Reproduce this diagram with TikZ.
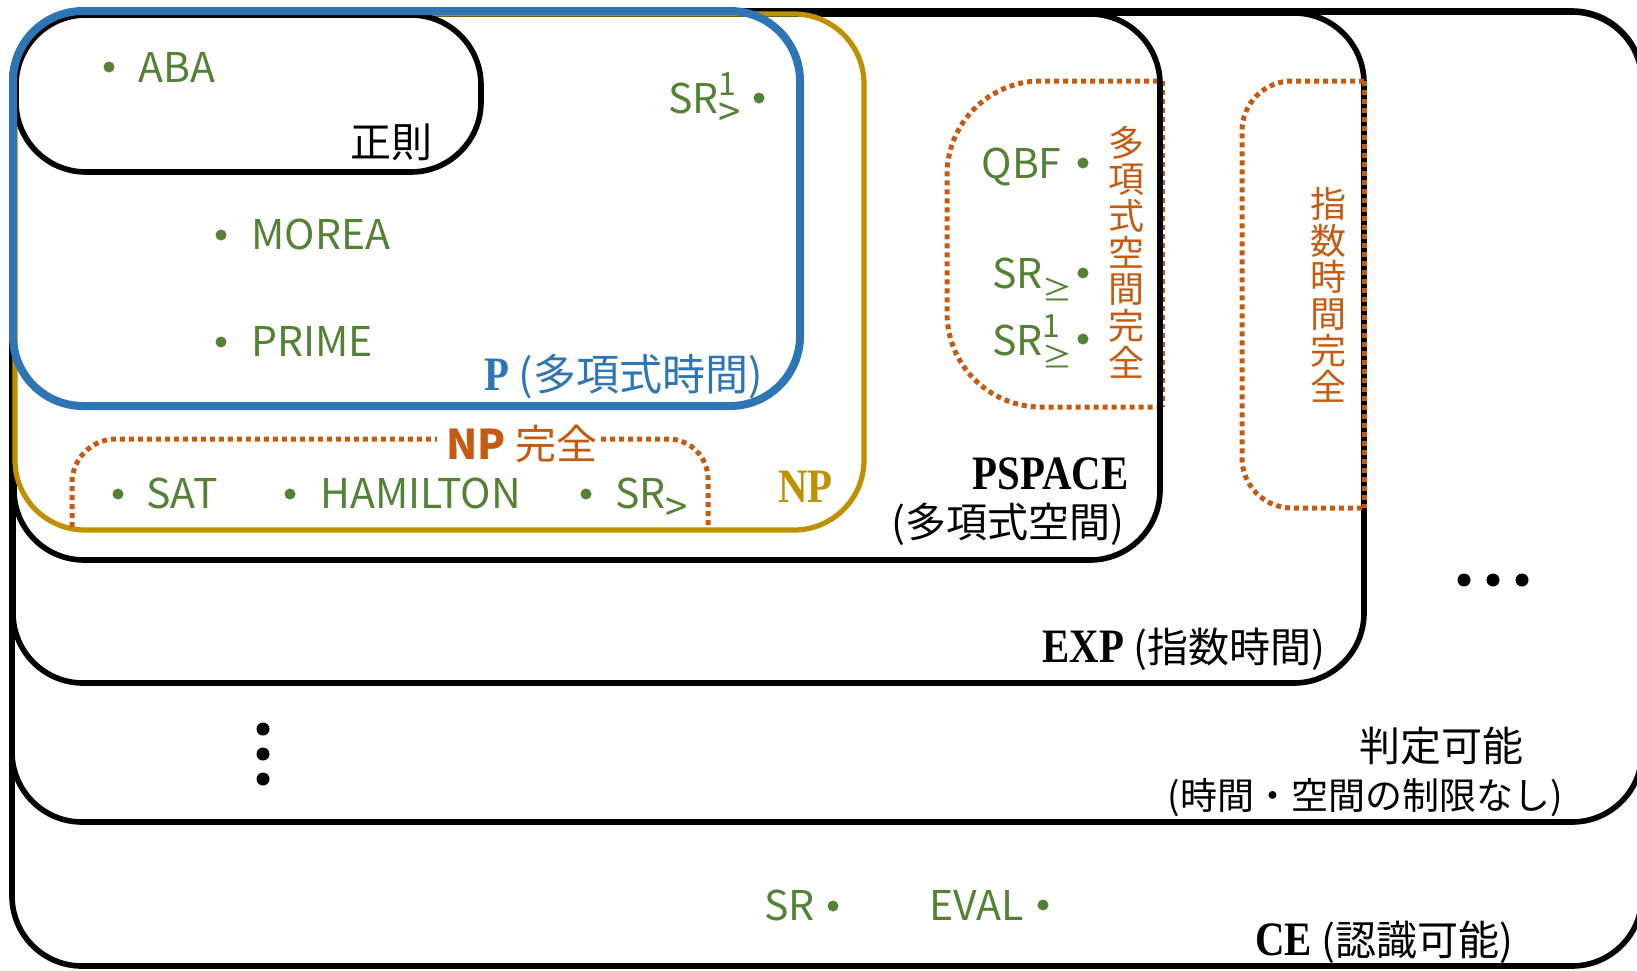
\documentclass[tikz,border=0pt]{standalone}
\usepackage{fontspec}
\setmainfont{Noto Sans CJK JP}
\newfontfamily\clsfont{Liberation Serif}[FakeStretch=0.85]
\definecolor{itemgreen}{HTML}{548235}
\definecolor{pblue}{HTML}{2E75B6}
\definecolor{npgold}{HTML}{BF9000}
\definecolor{compl}{HTML}{C55A11}
\newcommand\labsize{\fontsize{20.5pt}{24pt}\selectfont}
\newcommand\cls[1]{{\clsfont\bfseries\fontsize{24pt}{28pt}\selectfont #1}}
% SR with an upper index and a relation written below it
\newcommand\relgt{\fontsize{20pt}{20pt}\selectfont >}
\newcommand\relge{\fontsize{15pt}{15pt}\selectfont ≥}
\newcommand\srmark[2]{SR\rlap{\raisebox{9pt}{\fontsize{16pt}{16pt}\selectfont #1}}\raisebox{-6.5pt}{#2}}
\begin{document}
\begin{tikzpicture}[x=0.5pt,y=-0.5pt,
  setline/.style={draw=black,line width=2.8pt,rounded corners=35pt},
  pline/.style={draw=pblue,line width=4pt,rounded corners=35pt},
  npline/.style={draw=npgold,line width=2.6pt,rounded corners=35pt},
  complete/.style={draw=compl,line width=2.5pt,dash pattern=on 2.5pt off 2pt},
  item/.style={text=itemgreen,inner sep=0pt,anchor=base west,font=\labsize},
  itemr/.style={item,anchor=base east},
  bullet/.style={circle,fill=itemgreen,inner sep=0pt,minimum size=5.5pt},
  bigdot/.style={circle,fill=black,inner sep=0pt,minimum size=6.5pt},
  tag/.style={inner sep=0pt,font=\labsize},
  vtag/.style={inner sep=0pt,text=compl,align=center,font=\fontsize{18pt}{18.35pt}\selectfont}]
\useasboundingbox (0,0) rectangle (1637,970);
\clip (0,0) rectangle (1637,970);

% PSPACE-complete region, its right side runs under the PSPACE border
\draw[complete,rounded corners=47pt] (1158,81) -- (947,81) -- (947,407) -- (1158,407);
\draw[complete,line width=1pt] (1164,81) -- (1164,407);

% nested classes
\draw[setline] (12,11) rectangle (1642,966);   % CE
\draw[setline] (12,12) rectangle (1642,822);   % decidable
\draw[setline] (13,13) rectangle (1364,683);   % EXP
\draw[setline] (14,14) rectangle (1160,560);   % PSPACE
\draw[npline]  (15,14) rectangle (864,530);    % NP
\draw[setline,rounded corners=35pt] (16,15) rectangle (481,172); % regular
\draw[pline]   (13,11) rectangle (800,406);    % P

% EXPTIME-complete region, drawn over the EXP border
\draw[complete,rounded corners=25pt] (1364,81) -- (1242,81) -- (1242,508) -- (1364,508);
\draw[complete] (1364,81) -- (1364,508);

% NP-complete region, open at the bottom, with a gap for its label
\draw[complete,rounded corners=22pt] (72,527) -- (72,439) -- (437,439);
\draw[complete,rounded corners=20pt] (601,439) -- (708,439) -- (708,527);

% class labels
\node[tag,anchor=center] (reg) at (391,142) {正則};
\node[tag,text=pblue,anchor=base west,font=\fontsize{21.5pt}{25pt}\selectfont] (lp) at (484,390) {\cls{P} (多項式時間)};
\node[tag,text=npgold,anchor=base west] (lnp) at (778,502) {\cls{NP}};
\node[tag,text=compl,anchor=center] (lnpc) at (522,444) {\textbf{NP} 完全};
\node[tag,anchor=base east] (lps) at (1129,489) {\cls{PSPACE}};
\node[tag,anchor=center] (lps2) at (1008,524) {(多項式空間)};
\node[tag,anchor=base west] (lexp) at (1042,662) {\cls{EXP} (指数時間)};
\node[tag,anchor=center] (ldec) at (1441,746) {判定可能};
\node[tag,anchor=center,font=\fontsize{18.5pt}{22pt}\selectfont] (ldec2) at (1365,798) {(時間・空間の制限なし)};
\node[tag,anchor=base west] (lce) at (1255,955) {\cls{CE} (認識可能)};
\node[vtag] (lpsc) at (1126,252) {多\\項\\式\\空\\間\\完\\全};
\node[vtag] (lexpc) at (1328,295) {指\\数\\時\\間\\完\\全};

% problems
\node[bullet] (b1) at (109,67) {};   \node[item] (aba) at (138,82) {ABA};
\node[bullet] (b2) at (221,235) {};  \node[item] (morea) at (251,249) {MOREA};
\node[bullet] (b3) at (221,342) {};  \node[item] (prime) at (251,356) {PRIME};
\node[item] (sr1g) at (668,113) {\srmark{1}{\relgt}}; \node[bullet] (b4) at (759,98) {};
\node[bullet] (b5) at (118,494) {};  \node[item] (sat) at (146,508) {SAT};
\node[bullet] (b6) at (290,494) {};  \node[item] (ham) at (320,508) {HAMILTON};
\node[bullet] (b7) at (586,494) {};  \node[item] (srg) at (615,508) {\srmark{}{\relgt}};
\node[itemr] (qbf) at (1062,178) {QBF};                \node[bullet] (b8) at (1083,163) {};
\node[item] (srge) at (992,288) {\srmark{}{\relge}};   \node[bullet] (b9) at (1083,273) {};
\node[item] (sr1ge) at (992,355) {\srmark{1}{\relge}}; \node[bullet] (b10) at (1083,339) {};
\node[item] (sr) at (764,920) {SR};                    \node[bullet] (b11) at (833,906) {};
\node[item] (eval) at (929,920) {EVAL};                \node[bullet] (b12) at (1043,905) {};

% ellipses
\node[bigdot] (v1) at (263,729) {};
\node[bigdot] (v2) at (263,754) {};
\node[bigdot] (v3) at (263,779) {};
\node[bigdot] (h1) at (1464,580) {};
\node[bigdot] (h2) at (1493,580) {};
\node[bigdot] (h3) at (1522,580) {};
\end{tikzpicture}
\end{document}
